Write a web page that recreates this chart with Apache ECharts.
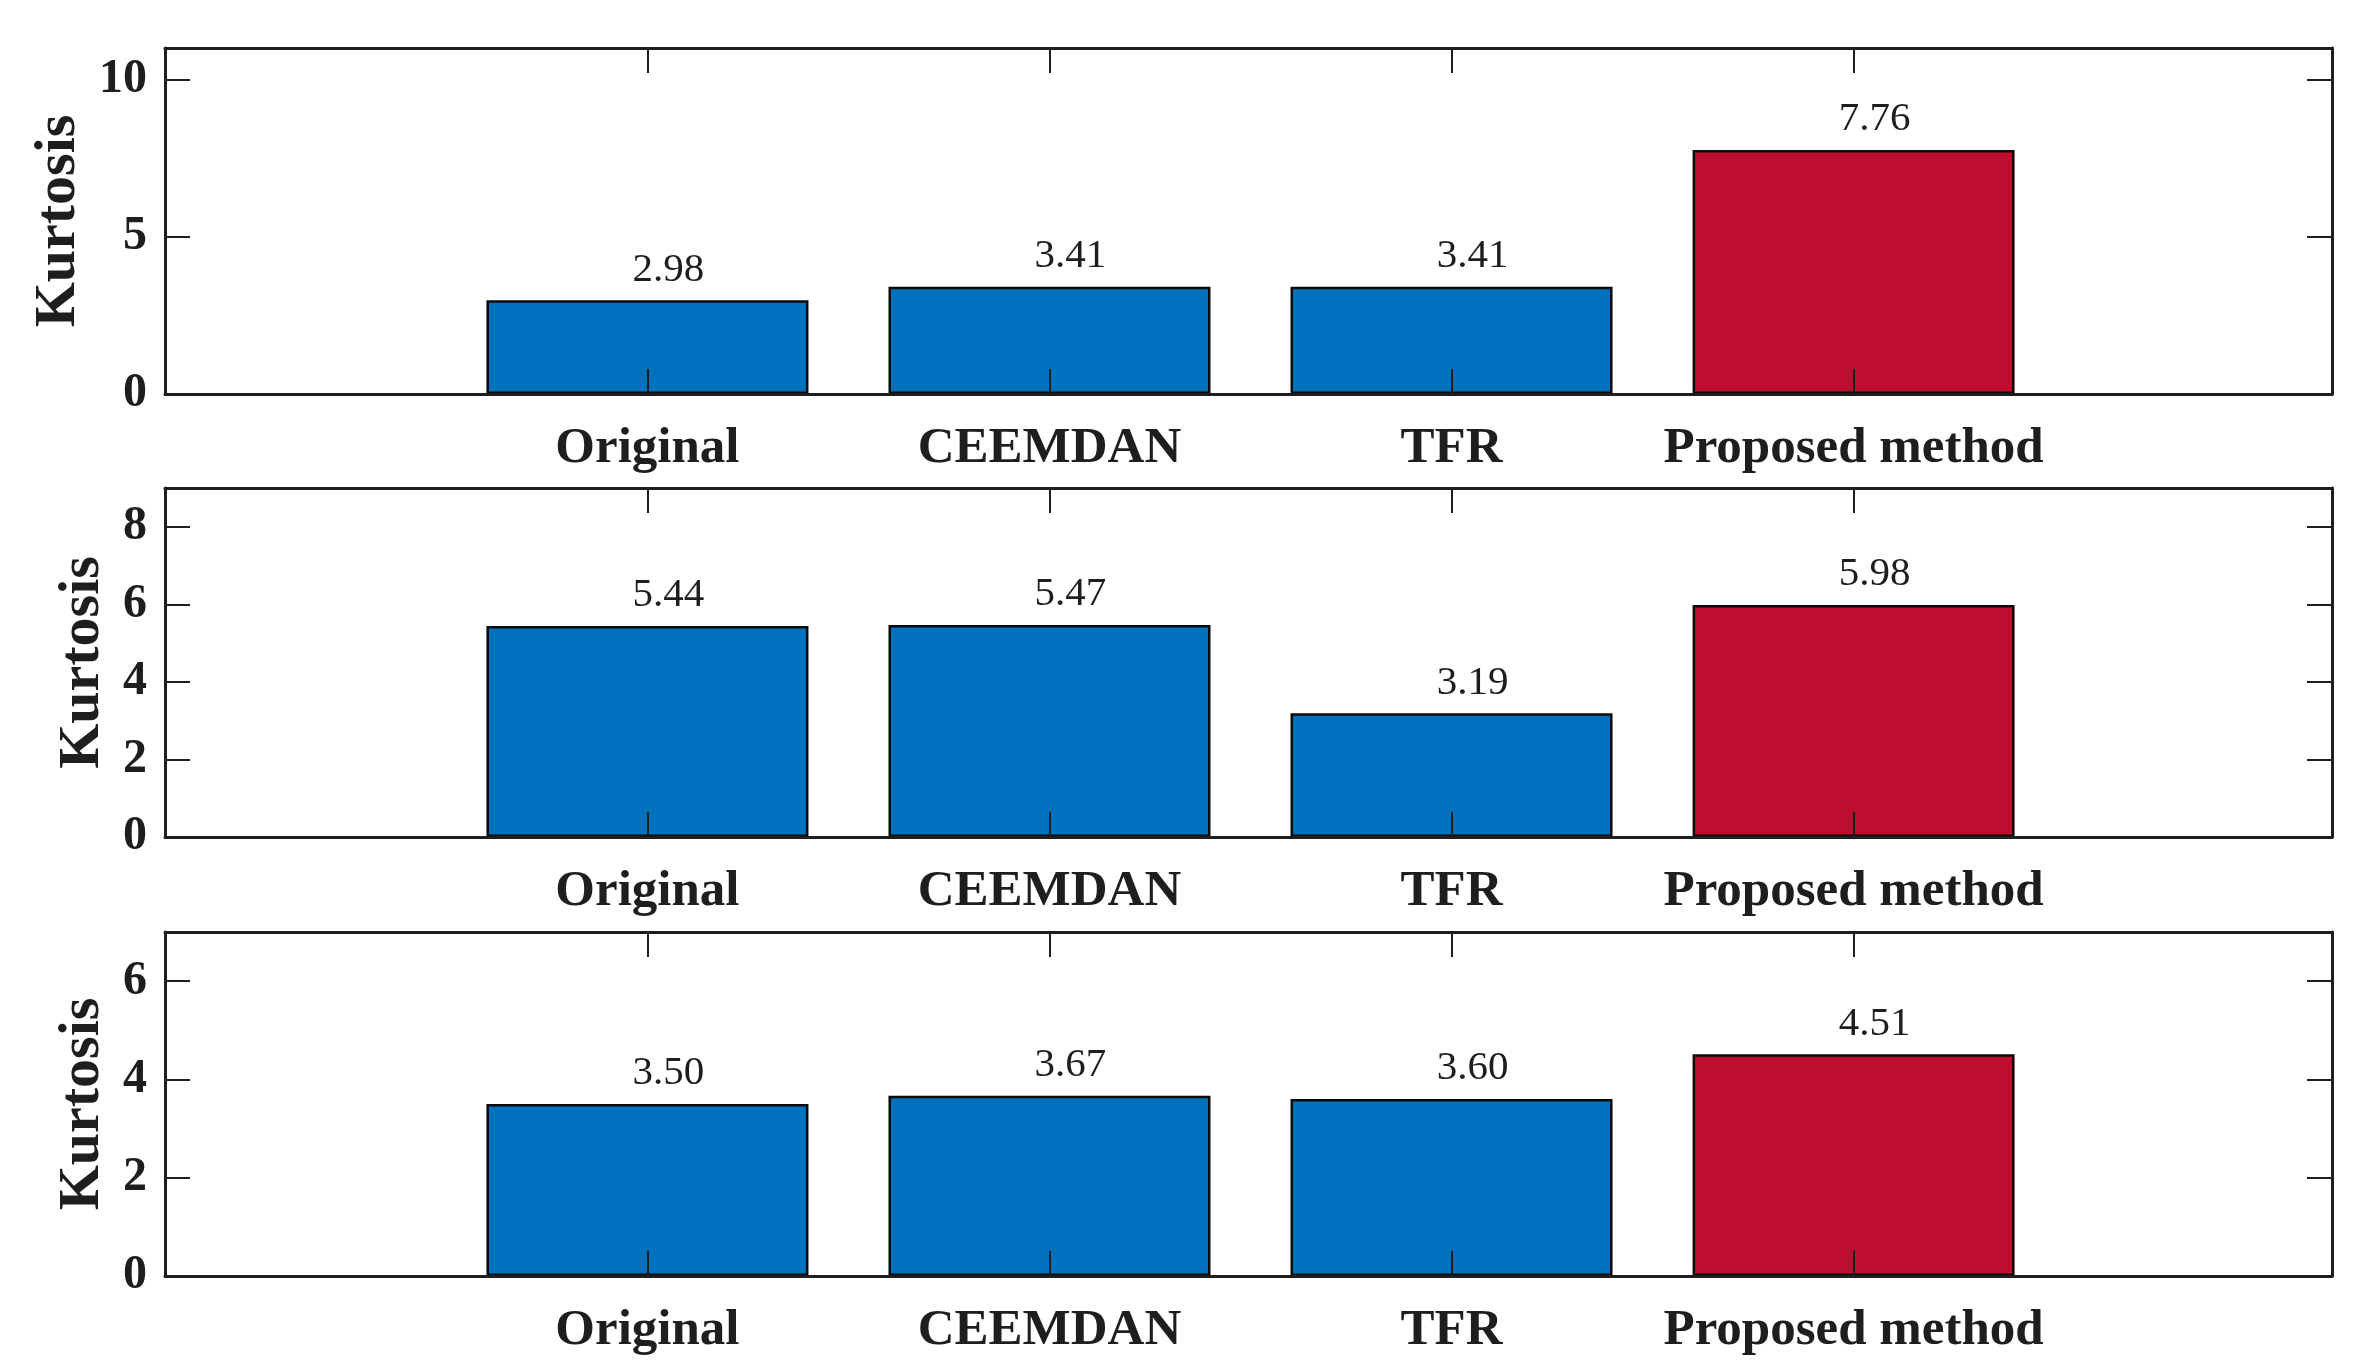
<!DOCTYPE html>
<html><head><meta charset="utf-8">
<script src="https://cdn.jsdelivr.net/npm/echarts@6/dist/echarts.min.js"></script>
<style>html,body{margin:0;padding:0;background:#fff}#c{width:2360px;height:1371px}</style>
</head><body><div id="c"></div>
<script>
const categories = ['Original', 'CEEMDAN', 'TFR', 'Proposed method'];
const positions = [1, 2, 3, 4];
const kurtosisA = [2.98, 3.41, 3.41, 7.76];
const kurtosisB = [5.44, 5.47, 3.19, 5.98];
const kurtosisC = [3.50, 3.67, 3.60, 4.51];
const yMaxA = 11, yMaxB = 9, yMaxC = 7;
const yTicksA = [0, 5, 10];
const yTicksB = [0, 2, 4, 6, 8];
const yTicksC = [0, 2, 4, 6];
const yAxisTitle = 'Kurtosis';
const highlightIndex = 3;

const BLUE = '#0072BD', RED = '#BC0E2E', INK = '#1e1e1e';
const FONT = '"Liberation Serif", "Times New Roman", serif';

const panels = [
  { vals: kurtosisA, yMax: yMaxA, ticks: yTicksA, top: 48, height: 346, nameGap: 75 },
  { vals: kurtosisB, yMax: yMaxB, ticks: yTicksB, top: 488, height: 349, nameGap: 52 },
  { vals: kurtosisC, yMax: yMaxC, ticks: yTicksC, top: 932, height: 344, nameGap: 52 }
];

const grid = [], xAxis = [], yAxis = [], series = [];
const line = { show: true, onZero: false, lineStyle: { color: INK, width: 3 } };
panels.forEach((p, i) => {
  grid.push({ left: 165, right: 28, top: p.top, height: p.height });
  const xBase = {
    type: 'value', gridIndex: i, min: -0.2, max: 5.19, z: 10,
    axisLine: line, splitLine: { show: false },
    axisTick: { show: true, inside: true, length: 25, customValues: positions, lineStyle: { color: INK, width: 2 } }
  };
  xAxis.push(Object.assign({}, xBase, {
    position: 'bottom',
    axisLabel: {
      show: true, customValues: positions, margin: 29,
      formatter: v => categories[positions.indexOf(v)] || '',
      fontFamily: FONT, fontWeight: 'bold', fontSize: 51, color: INK
    }
  }));
  xAxis.push(Object.assign({}, xBase, { position: 'top', axisLabel: { show: false } }));
  const yBase = {
    type: 'value', gridIndex: i, min: 0, max: p.yMax, z: 10,
    axisLine: line, splitLine: { show: false },
    axisTick: { show: true, inside: true, length: 25, customValues: p.ticks, lineStyle: { color: INK, width: 2 } }
  };
  yAxis.push(Object.assign({}, yBase, {
    position: 'left',
    name: yAxisTitle, nameLocation: 'middle', nameGap: p.nameGap,
    nameTextStyle: { fontFamily: FONT, fontWeight: 'bold', fontSize: 58, color: INK },
    axisLabel: { show: true, customValues: p.ticks, margin: 18, fontFamily: FONT, fontWeight: 'bold', fontSize: 48, color: INK }
  }));
  yAxis.push(Object.assign({}, yBase, { position: 'right', axisLabel: { show: false } }));
  series.push({
    type: 'bar', xAxisIndex: 2 * i, yAxisIndex: 2 * i,
    data: positions.map((x, j) => [x, p.vals[j]]),
    barWidth: 322,
    itemStyle: {
      color: prm => prm.dataIndex === highlightIndex ? RED : BLUE,
      borderColor: '#0a0a0a', borderWidth: 2.5
    },
    label: {
      show: true, position: 'top', distance: 10, offset: [21, 0],
      formatter: prm => prm.value[1].toFixed(2),
      fontFamily: FONT, fontSize: 41, color: INK
    }
  });
});

const chart = echarts.init(document.getElementById('c'), null, { renderer: 'canvas' });
chart.setOption({ backgroundColor: '#fff', animation: false, grid, xAxis, yAxis, series });
</script></body></html>
